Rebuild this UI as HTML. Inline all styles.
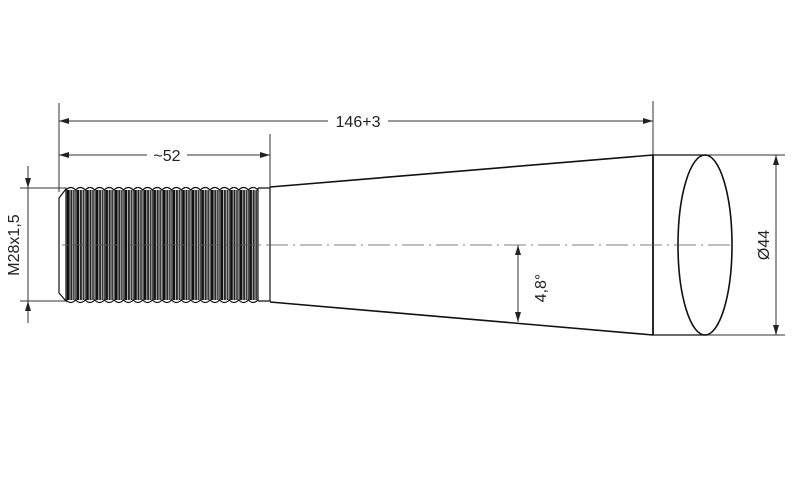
<!DOCTYPE html>
<html><head><meta charset="utf-8"><style>
html,body{margin:0;padding:0;background:#fff;width:803px;height:482px;overflow:hidden}
text{font-family:"Liberation Sans",Arial,sans-serif;fill:#222}
</style></head><body>
<svg width="803" height="482" viewBox="0 0 803 482" xmlns="http://www.w3.org/2000/svg">
<defs>
<marker id="a" viewBox="0 0 10 6" refX="10" refY="3" markerWidth="10" markerHeight="6" orient="auto-start-reverse" markerUnits="userSpaceOnUse"><path d="M0,0L10,3L0,6z" fill="#222"/></marker>
<pattern id="th" x="67" y="0" width="9.6" height="10" patternUnits="userSpaceOnUse">
<rect width="9.6" height="10" fill="#ddd"/>
<rect x="0" width="2.6" height="10" fill="#111"/>
<rect x="3.4" width="1.8" height="10" fill="#222"/>
<rect x="6" width="1.6" height="10" fill="#333"/>
<rect x="8.2" width="1.2" height="10" fill="#444"/>
</pattern>
</defs>
<g stroke="#333" stroke-width="1" fill="none">
<line x1="59" y1="103" x2="59" y2="192"/>
<line x1="653" y1="101" x2="653" y2="155"/>
<line x1="270" y1="134" x2="270" y2="188"/>
<line x1="20" y1="188" x2="66" y2="188"/>
<line x1="20" y1="301" x2="66" y2="301"/>
<line x1="707" y1="155" x2="785" y2="155"/>
<line x1="707" y1="335" x2="785" y2="335"/>
<line x1="59" y1="121" x2="653" y2="121" marker-start="url(#a)" marker-end="url(#a)"/>
<line x1="59" y1="155" x2="270" y2="155" marker-start="url(#a)" marker-end="url(#a)"/>
<line x1="28" y1="166" x2="28" y2="188" marker-end="url(#a)"/>
<line x1="28" y1="323" x2="28" y2="301" marker-end="url(#a)"/>
<line x1="28" y1="188" x2="28" y2="301"/>
<line x1="776" y1="155" x2="776" y2="335" marker-start="url(#a)" marker-end="url(#a)"/>
<line x1="518" y1="245" x2="518" y2="322" marker-start="url(#a)" marker-end="url(#a)"/>
</g>
<rect x="328" y="112" width="60" height="18" fill="#fff"/>
<rect x="147" y="146" width="40" height="18" fill="#fff"/>
<text x="358" y="127" font-size="16" text-anchor="middle">146+3</text>
<text x="167" y="161" font-size="16" text-anchor="middle">~52</text>
<text transform="translate(19,245) rotate(-90)" font-size="16" text-anchor="middle">M28x1,5</text>
<text transform="translate(769,245) rotate(-90)" font-size="16" text-anchor="middle">Ø44</text>
<text transform="translate(546,288) rotate(-90)" font-size="16" text-anchor="middle">4,8°</text>
<rect x="66" y="190" width="192" height="110" fill="url(#th)"/>
<g stroke="#111" stroke-width="1.2" fill="none">
<path d="M59,198 L66,189 L66,301 L59,293 Z" fill="#fff"/>
<path d="M66,190 q4.8,-5 9.6,0 q4.8,-5 9.6,0 q4.8,-5 9.6,0 q4.8,-5 9.6,0 q4.8,-5 9.6,0 q4.8,-5 9.6,0 q4.8,-5 9.6,0 q4.8,-5 9.6,0 q4.8,-5 9.6,0 q4.8,-5 9.6,0 q4.8,-5 9.6,0 q4.8,-5 9.6,0 q4.8,-5 9.6,0 q4.8,-5 9.6,0 q4.8,-5 9.6,0 q4.8,-5 9.6,0 q4.8,-5 9.6,0 q4.8,-5 9.6,0 q4.8,-5 9.6,0 q4.8,-5 9.6,0"/>
<path d="M66,300 q4.8,5 9.6,0 q4.8,5 9.6,0 q4.8,5 9.6,0 q4.8,5 9.6,0 q4.8,5 9.6,0 q4.8,5 9.6,0 q4.8,5 9.6,0 q4.8,5 9.6,0 q4.8,5 9.6,0 q4.8,5 9.6,0 q4.8,5 9.6,0 q4.8,5 9.6,0 q4.8,5 9.6,0 q4.8,5 9.6,0 q4.8,5 9.6,0 q4.8,5 9.6,0 q4.8,5 9.6,0 q4.8,5 9.6,0 q4.8,5 9.6,0 q4.8,5 9.6,0"/>
<line x1="258" y1="188" x2="258" y2="301"/>
<path d="M258,188 L270,188 L270,301 L258,301"/>
<line x1="270" y1="187" x2="653" y2="155" stroke-width="1.6"/>
<line x1="270" y1="302" x2="653" y2="335" stroke-width="1.6"/>
<line x1="653" y1="155" x2="653" y2="335" stroke-width="1.8"/>
<line x1="653" y1="155" x2="707" y2="155"/>
<line x1="653" y1="335" x2="707" y2="335"/>
<ellipse cx="705" cy="245" rx="27" ry="90" stroke-width="1.6"/>
</g>
<line x1="62" y1="245" x2="735" y2="245" stroke="#555" stroke-width="0.8" stroke-dasharray="22,5,2,5"/>
</svg>
</body></html>
